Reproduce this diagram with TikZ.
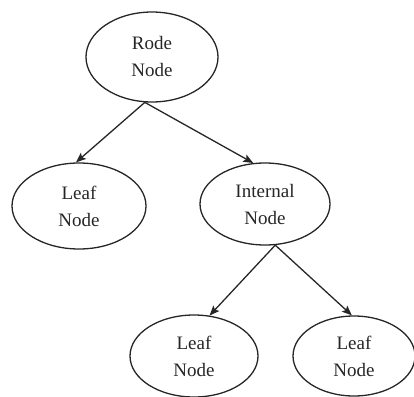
\documentclass[tikz,border=0pt]{standalone}
\usepackage{fontspec}
\setmainfont{Liberation Serif}
\usetikzlibrary{shapes.geometric,arrows.meta}
\definecolor{ink}{HTML}{262626}
\tikzset{
  treenode/.style={ellipse, draw=ink, line width=1.3pt, inner sep=0pt, align=center,
    text=ink, font=\fontsize{19}{27}\selectfont},
  edge/.style={draw=ink, line width=1.3pt, -{Stealth[length=10pt,width=8pt,inset=2pt]}}
}
\begin{document}
\begin{tikzpicture}[x=1pt,y=-1pt]
\useasboundingbox (0,0) rectangle (414,396);
\node[treenode, minimum width=132pt, minimum height=90pt] (root) at (152,57) {Rode\\Node};
\node[treenode, minimum width=134pt, minimum height=86pt] (leafL) at (79,206) {Leaf\\Node};
\node[treenode, minimum width=130pt, minimum height=82pt] (internal) at (265,204) {Internal\\Node};
\node[treenode, minimum width=128pt, minimum height=82pt] (leafBL) at (194,356) {Leaf\\Node};
\node[treenode, minimum width=122pt, minimum height=80pt] (leafBR) at (354,356) {Leaf\\Node};
\draw[edge] (root.-99) -- (leafL.94);
\draw[edge] (root.-99) -- (internal.106);
\draw[edge] (internal.-76) -- (leafBL.69);
\draw[edge] (internal.-76) -- (leafBR.93);
\end{tikzpicture}
\end{document}
